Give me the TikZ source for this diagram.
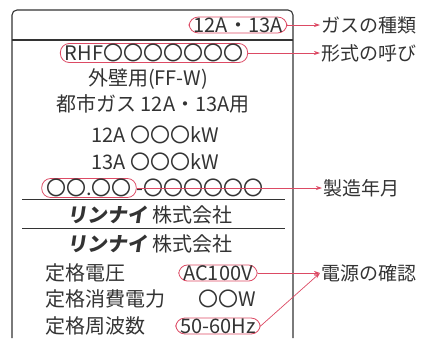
\documentclass[tikz,border=0pt]{standalone}
\usepackage{fontspec}
\setmainfont{Noto Sans CJK JP}[BoldFeatures={FakeSlant=0.15}]
\usetikzlibrary{positioning}
\usetikzlibrary{arrows.meta}
\definecolor{labelred}{HTML}{DC4A64}
\definecolor{inkgray}{HTML}{333333}
\tikzstyle{hilite} = [draw=labelred, rounded corners=9pt, inner xsep=4.5pt, inner ysep=0.5pt, line width=0.8pt]
\tikzstyle{arrow} = [labelred, line width=0.7pt, -{Stealth[length=6pt,width=4pt]}]
\tikzstyle{tag} = [anchor=west, inner sep=1pt, font=\fontsize{19pt}{22pt}\selectfont]
\tikzstyle{frame} = [inkgray, line width=1.1pt]

\begin{document}
\begin{tikzpicture}[x=1pt, y=-1pt, every node/.style={text=inkgray, font=\fontsize{20pt}{23pt}\selectfont}]
\useasboundingbox (0,0) rectangle (421,338);
% plate
\draw[frame, rounded corners=5pt] (12,338) -- (12,10) -- (293,10) -- (293,338);
\draw[frame] (12,40) -- (293,40);
\draw[inkgray, line width=0.9pt] (22,199) -- (285,199);
\draw[inkgray, line width=0.9pt] (22,228) -- (285,228);
% rows
\node[hilite] (gas) at (238,25) {12A・13A};
\node[hilite] (model) at (154,53) {RHF〇〇〇〇〇〇〇};
\node (vent) at (148,79) {外壁用(FF-W)};
\node (city) at (153,104) {都市ガス 12A・13A用};
\node (out12) at (155,135) {12A 〇〇〇kW};
\node (out13) at (155,162) {13A 〇〇〇kW};
\node[hilite] (date) at (89,188) {〇〇.〇〇};
\node[right=0pt of date, inner sep=0pt] (serial) {-〇〇〇〇〇〇};
\node (maker1) at (150,215) {\textbf{リンナイ} 株式会社};
\node (maker2) at (150,244) {\textbf{リンナイ} 株式会社};
\node[anchor=west] (volt) at (42,273) {定格電圧};
\node[anchor=west] (watt) at (42,299) {定格消費電力};
\node[anchor=west] (freq) at (42,326) {定格周波数};
\node[hilite] (ac) at (218,273) {AC100V};
\node[anchor=east] (pw) at (260,299) {〇〇W};
\node[hilite] (hz) at (218,326) {50-60Hz};
% callouts
\node[tag] (gastype) at (320,25) {ガスの種類};
\node[tag] (modelname) at (320,53) {形式の呼び};
\node[tag] (made) at (322,188) {製造年月};
\node[tag] (power) at (320,273) {電源の確認};
\draw[arrow] (gas.east) -- (gastype.west);
\draw[arrow] (model.east) -- (modelname.west);
\draw[arrow] (date.east) -- (made.west);
\draw[arrow] (ac.east) -- (power.west);
\draw[arrow] (hz.east) -- (power.west);
\end{tikzpicture}
\end{document}
